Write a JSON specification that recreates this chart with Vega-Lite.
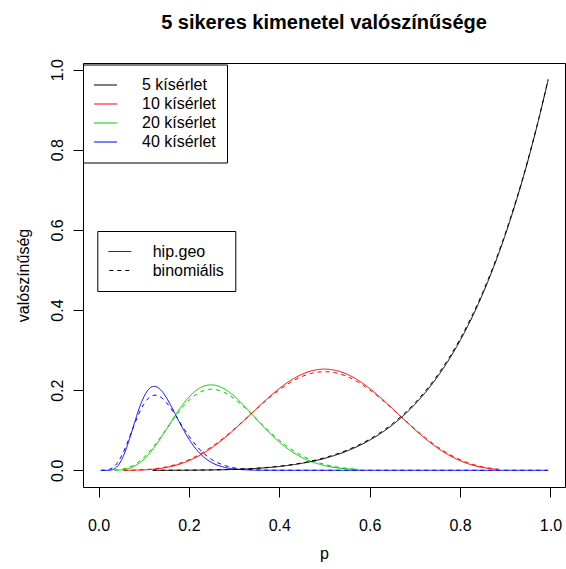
{
"$schema":"https://vega.github.io/schema/vega-lite/v6.json",
"width":482,"height":424,
"autosize":{"type":"none"},
"padding":{"left":83,"top":63,"right":1,"bottom":82},
"background":"white",
"title":{"text":"5 sikeres kimenetel valószínűsége","font":"Liberation Sans","fontSize":20,"fontWeight":"bold","color":"#000","anchor":"middle","offset":25},
"config":{"view":{"stroke":"#000","strokeWidth":1},
 "axis":{"grid":false,"domain":false,"tickColor":"#000","tickSize":10,"tickWidth":1,"labelFont":"Liberation Sans","labelFontSize":16,"labelColor":"#000","titleFont":"Liberation Sans","titleFontSize":16,"titleFontWeight":"normal","titleColor":"#000","labelFlush":false,"labelOverlap":false}},
"data":{"values":[
{"p":0.005,"n":"40 kísérlet","t":"hip.geo","v":0},
{"p":0.01,"n":"40 kísérlet","t":"hip.geo","v":0},
{"p":0.02,"n":"40 kísérlet","t":"hip.geo","v":0},
{"p":0.025,"n":"40 kísérlet","t":"hip.geo","v":0.00026},
{"p":0.03,"n":"40 kísérlet","t":"hip.geo","v":0.00128},
{"p":0.04,"n":"40 kísérlet","t":"hip.geo","v":0.008},
{"p":0.05,"n":"40 kísérlet","t":"hip.geo","v":0.02404},
{"p":0.06,"n":"40 kísérlet","t":"hip.geo","v":0.05023},
{"p":0.07,"n":"40 kísérlet","t":"hip.geo","v":0.08399},
{"p":0.08,"n":"40 kísérlet","t":"hip.geo","v":0.12062},
{"p":0.09,"n":"40 kísérlet","t":"hip.geo","v":0.15495},
{"p":0.1,"n":"40 kísérlet","t":"hip.geo","v":0.18268},
{"p":0.11,"n":"40 kísérlet","t":"hip.geo","v":0.20108},
{"p":0.12,"n":"40 kísérlet","t":"hip.geo","v":0.20917},
{"p":0.125,"n":"40 kísérlet","t":"hip.geo","v":0.20948},
{"p":0.13,"n":"40 kísérlet","t":"hip.geo","v":0.20748},
{"p":0.14,"n":"40 kísérlet","t":"hip.geo","v":0.19753},
{"p":0.15,"n":"40 kísérlet","t":"hip.geo","v":0.18144},
{"p":0.16,"n":"40 kísérlet","t":"hip.geo","v":0.16144},
{"p":0.17,"n":"40 kísérlet","t":"hip.geo","v":0.13959},
{"p":0.18,"n":"40 kísérlet","t":"hip.geo","v":0.11759},
{"p":0.19,"n":"40 kísérlet","t":"hip.geo","v":0.09671},
{"p":0.2,"n":"40 kísérlet","t":"hip.geo","v":0.07778},
{"p":0.21,"n":"40 kísérlet","t":"hip.geo","v":0.06126},
{"p":0.22,"n":"40 kísérlet","t":"hip.geo","v":0.04731},
{"p":0.23,"n":"40 kísérlet","t":"hip.geo","v":0.03586},
{"p":0.24,"n":"40 kísérlet","t":"hip.geo","v":0.0267},
{"p":0.25,"n":"40 kísérlet","t":"hip.geo","v":0.01953},
{"p":0.26,"n":"40 kísérlet","t":"hip.geo","v":0.01405},
{"p":0.28,"n":"40 kísérlet","t":"hip.geo","v":0.00693},
{"p":0.3,"n":"40 kísérlet","t":"hip.geo","v":0.00321},
{"p":0.32,"n":"40 kísérlet","t":"hip.geo","v":0.0014},
{"p":0.36,"n":"40 kísérlet","t":"hip.geo","v":0.00022},
{"p":0.4,"n":"40 kísérlet","t":"hip.geo","v":0.00002},
{"p":0.45,"n":"40 kísérlet","t":"hip.geo","v":0},
{"p":0.6,"n":"40 kísérlet","t":"hip.geo","v":0},
{"p":0.8,"n":"40 kísérlet","t":"hip.geo","v":0},
{"p":0.995,"n":"40 kísérlet","t":"hip.geo","v":0},
{"p":0.005,"n":"40 kísérlet","t":"binomiális","v":0},
{"p":0.01,"n":"40 kísérlet","t":"binomiális","v":0.00005},
{"p":0.02,"n":"40 kísérlet","t":"binomiális","v":0.00104},
{"p":0.025,"n":"40 kísérlet","t":"binomiális","v":0.00265},
{"p":0.03,"n":"40 kísérlet","t":"binomiális","v":0.00551},
{"p":0.04,"n":"40 kísérlet","t":"binomiális","v":0.01615},
{"p":0.05,"n":"40 kísérlet","t":"binomiális","v":0.03415},
{"p":0.06,"n":"40 kísérlet","t":"binomiális","v":0.05868},
{"p":0.07,"n":"40 kísérlet","t":"binomiális","v":0.08722},
{"p":0.08,"n":"40 kísérlet","t":"binomiális","v":0.11648},
{"p":0.09,"n":"40 kísérlet","t":"binomiális","v":0.14318},
{"p":0.1,"n":"40 kísérlet","t":"binomiális","v":0.16471},
{"p":0.11,"n":"40 kísérlet","t":"binomiális","v":0.17941},
{"p":0.12,"n":"40 kísérlet","t":"binomiális","v":0.18665},
{"p":0.125,"n":"40 kísérlet","t":"binomiális","v":0.18753},
{"p":0.13,"n":"40 kísérlet","t":"binomiális","v":0.18669},
{"p":0.14,"n":"40 kísérlet","t":"binomiális","v":0.18043},
{"p":0.15,"n":"40 kísérlet","t":"binomiális","v":0.16918},
{"p":0.16,"n":"40 kísérlet","t":"binomiális","v":0.15439},
{"p":0.17,"n":"40 kísérlet","t":"binomiális","v":0.13747},
{"p":0.18,"n":"40 kísérlet","t":"binomiális","v":0.1197},
{"p":0.19,"n":"40 kísérlet","t":"binomiális","v":0.10209},
{"p":0.2,"n":"40 kísérlet","t":"binomiális","v":0.08541},
{"p":0.21,"n":"40 kísérlet","t":"binomiális","v":0.07019},
{"p":0.22,"n":"40 kísérlet","t":"binomiális","v":0.05671},
{"p":0.23,"n":"40 kísérlet","t":"binomiális","v":0.04509},
{"p":0.24,"n":"40 kísérlet","t":"binomiális","v":0.0353},
{"p":0.25,"n":"40 kísérlet","t":"binomiális","v":0.02723},
{"p":0.26,"n":"40 kísérlet","t":"binomiális","v":0.02071},
{"p":0.28,"n":"40 kísérlet","t":"binomiális","v":0.0115},
{"p":0.3,"n":"40 kísérlet","t":"binomiális","v":0.00606},
{"p":0.32,"n":"40 kísérlet","t":"binomiális","v":0.00303},
{"p":0.36,"n":"40 kísérlet","t":"binomiális","v":0.00066},
{"p":0.4,"n":"40 kísérlet","t":"binomiális","v":0.00012},
{"p":0.45,"n":"40 kísérlet","t":"binomiális","v":0.00001},
{"p":0.6,"n":"40 kísérlet","t":"binomiális","v":0},
{"p":0.8,"n":"40 kísérlet","t":"binomiális","v":0},
{"p":0.995,"n":"40 kísérlet","t":"binomiális","v":0},
{"p":0.035,"n":"20 kísérlet","t":"hip.geo","v":0.00011},
{"p":0.05,"n":"20 kísérlet","t":"hip.geo","v":0.00103},
{"p":0.075,"n":"20 kísérlet","t":"hip.geo","v":0.00808},
{"p":0.1,"n":"20 kísérlet","t":"hip.geo","v":0.02722},
{"p":0.125,"n":"20 kísérlet","t":"hip.geo","v":0.06005},
{"p":0.15,"n":"20 kísérlet","t":"hip.geo","v":0.10234},
{"p":0.175,"n":"20 kísérlet","t":"hip.geo","v":0.14606},
{"p":0.2,"n":"20 kísérlet","t":"hip.geo","v":0.18269},
{"p":0.225,"n":"20 kísérlet","t":"hip.geo","v":0.20599},
{"p":0.25,"n":"20 kísérlet","t":"hip.geo","v":0.21323},
{"p":0.275,"n":"20 kísérlet","t":"hip.geo","v":0.20517},
{"p":0.3,"n":"20 kísérlet","t":"hip.geo","v":0.18508},
{"p":0.325,"n":"20 kísérlet","t":"hip.geo","v":0.15744},
{"p":0.35,"n":"20 kísérlet","t":"hip.geo","v":0.12681},
{"p":0.375,"n":"20 kísérlet","t":"hip.geo","v":0.09696},
{"p":0.4,"n":"20 kísérlet","t":"hip.geo","v":0.07048},
{"p":0.425,"n":"20 kísérlet","t":"hip.geo","v":0.04872},
{"p":0.45,"n":"20 kísérlet","t":"hip.geo","v":0.03202},
{"p":0.475,"n":"20 kísérlet","t":"hip.geo","v":0.01999},
{"p":0.5,"n":"20 kísérlet","t":"hip.geo","v":0.01182},
{"p":0.525,"n":"20 kísérlet","t":"hip.geo","v":0.00661},
{"p":0.55,"n":"20 kísérlet","t":"hip.geo","v":0.00347},
{"p":0.575,"n":"20 kísérlet","t":"hip.geo","v":0.00171},
{"p":0.035,"n":"20 kísérlet","t":"binomiális","v":0.00048},
{"p":0.05,"n":"20 kísérlet","t":"binomiális","v":0.00224},
{"p":0.075,"n":"20 kísérlet","t":"binomiális","v":0.01143},
{"p":0.1,"n":"20 kísérlet","t":"binomiális","v":0.03192},
{"p":0.125,"n":"20 kísérlet","t":"binomiális","v":0.06384},
{"p":0.15,"n":"20 kísérlet","t":"binomiális","v":0.10285},
{"p":0.175,"n":"20 kísérlet","t":"binomiális","v":0.14205},
{"p":0.2,"n":"20 kísérlet","t":"binomiális","v":0.17456},
{"p":0.225,"n":"20 kísérlet","t":"binomiális","v":0.19538},
{"p":0.25,"n":"20 kísérlet","t":"binomiális","v":0.20233},
{"p":0.275,"n":"20 kísérlet","t":"binomiális","v":0.19596},
{"p":0.3,"n":"20 kísérlet","t":"binomiális","v":0.17886},
{"p":0.325,"n":"20 kísérlet","t":"binomiális","v":0.15467},
{"p":0.35,"n":"20 kísérlet","t":"binomiális","v":0.1272},
{"p":0.375,"n":"20 kísérlet","t":"binomiális","v":0.09972},
{"p":0.4,"n":"20 kísérlet","t":"binomiális","v":0.07465},
{"p":0.425,"n":"20 kísérlet","t":"binomiális","v":0.05338},
{"p":0.45,"n":"20 kísérlet","t":"binomiális","v":0.03647},
{"p":0.475,"n":"20 kísérlet","t":"binomiális","v":0.02379},
{"p":0.5,"n":"20 kísérlet","t":"binomiális","v":0.01479},
{"p":0.525,"n":"20 kísérlet","t":"binomiális","v":0.00874},
{"p":0.55,"n":"20 kísérlet","t":"binomiális","v":0.0049},
{"p":0.575,"n":"20 kísérlet","t":"binomiális","v":0.0026},
{"p":0.055,"n":"10 kísérlet","t":"hip.geo","v":0.00004},
{"p":0.075,"n":"10 kísérlet","t":"hip.geo","v":0.00023},
{"p":0.1,"n":"10 kísérlet","t":"hip.geo","v":0.00103},
{"p":0.125,"n":"10 kísérlet","t":"hip.geo","v":0.00306},
{"p":0.15,"n":"10 kísérlet","t":"hip.geo","v":0.00708},
{"p":0.175,"n":"10 kísérlet","t":"hip.geo","v":0.01386},
{"p":0.2,"n":"10 kísérlet","t":"hip.geo","v":0.02404},
{"p":0.225,"n":"10 kísérlet","t":"hip.geo","v":0.03801},
{"p":0.25,"n":"10 kísérlet","t":"hip.geo","v":0.05583},
{"p":0.275,"n":"10 kísérlet","t":"hip.geo","v":0.07719},
{"p":0.3,"n":"10 kísérlet","t":"hip.geo","v":0.10143},
{"p":0.325,"n":"10 kísérlet","t":"hip.geo","v":0.12755},
{"p":0.35,"n":"10 kísérlet","t":"hip.geo","v":0.15431},
{"p":0.375,"n":"10 kísérlet","t":"hip.geo","v":0.1803},
{"p":0.4,"n":"10 kísérlet","t":"hip.geo","v":0.20407},
{"p":0.425,"n":"10 kísérlet","t":"hip.geo","v":0.22423},
{"p":0.45,"n":"10 kísérlet","t":"hip.geo","v":0.23959},
{"p":0.475,"n":"10 kísérlet","t":"hip.geo","v":0.2492},
{"p":0.5,"n":"10 kísérlet","t":"hip.geo","v":0.25247},
{"p":0.525,"n":"10 kísérlet","t":"hip.geo","v":0.2492},
{"p":0.55,"n":"10 kísérlet","t":"hip.geo","v":0.23959},
{"p":0.575,"n":"10 kísérlet","t":"hip.geo","v":0.22423},
{"p":0.6,"n":"10 kísérlet","t":"hip.geo","v":0.20407},
{"p":0.625,"n":"10 kísérlet","t":"hip.geo","v":0.1803},
{"p":0.65,"n":"10 kísérlet","t":"hip.geo","v":0.15431},
{"p":0.675,"n":"10 kísérlet","t":"hip.geo","v":0.12755},
{"p":0.7,"n":"10 kísérlet","t":"hip.geo","v":0.10143},
{"p":0.725,"n":"10 kísérlet","t":"hip.geo","v":0.07719},
{"p":0.75,"n":"10 kísérlet","t":"hip.geo","v":0.05583},
{"p":0.775,"n":"10 kísérlet","t":"hip.geo","v":0.03801},
{"p":0.8,"n":"10 kísérlet","t":"hip.geo","v":0.02404},
{"p":0.825,"n":"10 kísérlet","t":"hip.geo","v":0.01386},
{"p":0.85,"n":"10 kísérlet","t":"hip.geo","v":0.00708},
{"p":0.875,"n":"10 kísérlet","t":"hip.geo","v":0.00306},
{"p":0.885,"n":"10 kísérlet","t":"hip.geo","v":0.00205},
{"p":0.055,"n":"10 kísérlet","t":"binomiális","v":0.0001},
{"p":0.075,"n":"10 kísérlet","t":"binomiális","v":0.00041},
{"p":0.1,"n":"10 kísérlet","t":"binomiális","v":0.00149},
{"p":0.125,"n":"10 kísérlet","t":"binomiális","v":0.00394},
{"p":0.15,"n":"10 kísérlet","t":"binomiális","v":0.00849},
{"p":0.175,"n":"10 kísérlet","t":"binomiális","v":0.01581},
{"p":0.2,"n":"10 kísérlet","t":"binomiális","v":0.02642},
{"p":0.225,"n":"10 kísérlet","t":"binomiális","v":0.04063},
{"p":0.25,"n":"10 kísérlet","t":"binomiális","v":0.0584},
{"p":0.275,"n":"10 kísérlet","t":"binomiális","v":0.07939},
{"p":0.3,"n":"10 kísérlet","t":"binomiális","v":0.10292},
{"p":0.325,"n":"10 kísérlet","t":"binomiális","v":0.12804},
{"p":0.35,"n":"10 kísérlet","t":"binomiális","v":0.15357},
{"p":0.375,"n":"10 kísérlet","t":"binomiális","v":0.17822},
{"p":0.4,"n":"10 kísérlet","t":"binomiális","v":0.20066},
{"p":0.425,"n":"10 kísérlet","t":"binomiális","v":0.21963},
{"p":0.45,"n":"10 kísérlet","t":"binomiális","v":0.23403},
{"p":0.475,"n":"10 kísérlet","t":"binomiális","v":0.24303},
{"p":0.5,"n":"10 kísérlet","t":"binomiális","v":0.24609},
{"p":0.525,"n":"10 kísérlet","t":"binomiális","v":0.24303},
{"p":0.55,"n":"10 kísérlet","t":"binomiális","v":0.23403},
{"p":0.575,"n":"10 kísérlet","t":"binomiális","v":0.21963},
{"p":0.6,"n":"10 kísérlet","t":"binomiális","v":0.20066},
{"p":0.625,"n":"10 kísérlet","t":"binomiális","v":0.17822},
{"p":0.65,"n":"10 kísérlet","t":"binomiális","v":0.15357},
{"p":0.675,"n":"10 kísérlet","t":"binomiális","v":0.12804},
{"p":0.7,"n":"10 kísérlet","t":"binomiális","v":0.10292},
{"p":0.725,"n":"10 kísérlet","t":"binomiális","v":0.07939},
{"p":0.75,"n":"10 kísérlet","t":"binomiális","v":0.0584},
{"p":0.775,"n":"10 kísérlet","t":"binomiális","v":0.04063},
{"p":0.8,"n":"10 kísérlet","t":"binomiális","v":0.02642},
{"p":0.825,"n":"10 kísérlet","t":"binomiális","v":0.01581},
{"p":0.85,"n":"10 kísérlet","t":"binomiális","v":0.00849},
{"p":0.875,"n":"10 kísérlet","t":"binomiális","v":0.00394},
{"p":0.885,"n":"10 kísérlet","t":"binomiális","v":0.00275},
{"p":0.12,"n":"5 kísérlet","t":"hip.geo","v":0.00002},
{"p":0.15,"n":"5 kísérlet","t":"hip.geo","v":0.00006},
{"p":0.2,"n":"5 kísérlet","t":"hip.geo","v":0.00026},
{"p":0.25,"n":"5 kísérlet","t":"hip.geo","v":0.00084},
{"p":0.3,"n":"5 kísérlet","t":"hip.geo","v":0.00215},
{"p":0.35,"n":"5 kísérlet","t":"hip.geo","v":0.00477},
{"p":0.4,"n":"5 kísérlet","t":"hip.geo","v":0.00948},
{"p":0.45,"n":"5 kísérlet","t":"hip.geo","v":0.01733},
{"p":0.5,"n":"5 kísérlet","t":"hip.geo","v":0.02969},
{"p":0.55,"n":"5 kísérlet","t":"hip.geo","v":0.04827},
{"p":0.6,"n":"5 kísérlet","t":"hip.geo","v":0.07516},
{"p":0.65,"n":"5 kísérlet","t":"hip.geo","v":0.11289},
{"p":0.7,"n":"5 kísérlet","t":"hip.geo","v":0.16444},
{"p":0.75,"n":"5 kísérlet","t":"hip.geo","v":0.23331},
{"p":0.8,"n":"5 kísérlet","t":"hip.geo","v":0.32354},
{"p":0.85,"n":"5 kísérlet","t":"hip.geo","v":0.43974},
{"p":0.9,"n":"5 kísérlet","t":"hip.geo","v":0.58717},
{"p":0.95,"n":"5 kísérlet","t":"hip.geo","v":0.77172},
{"p":0.975,"n":"5 kísérlet","t":"hip.geo","v":0.87995},
{"p":0.995,"n":"5 kísérlet","t":"hip.geo","v":0.975},
{"p":0.12,"n":"5 kísérlet","t":"binomiális","v":0.00002},
{"p":0.15,"n":"5 kísérlet","t":"binomiális","v":0.00008},
{"p":0.2,"n":"5 kísérlet","t":"binomiális","v":0.00032},
{"p":0.25,"n":"5 kísérlet","t":"binomiális","v":0.00098},
{"p":0.3,"n":"5 kísérlet","t":"binomiális","v":0.00243},
{"p":0.35,"n":"5 kísérlet","t":"binomiális","v":0.00525},
{"p":0.4,"n":"5 kísérlet","t":"binomiális","v":0.01024},
{"p":0.45,"n":"5 kísérlet","t":"binomiális","v":0.01845},
{"p":0.5,"n":"5 kísérlet","t":"binomiális","v":0.03125},
{"p":0.55,"n":"5 kísérlet","t":"binomiális","v":0.05033},
{"p":0.6,"n":"5 kísérlet","t":"binomiális","v":0.07776},
{"p":0.65,"n":"5 kísérlet","t":"binomiális","v":0.11603},
{"p":0.7,"n":"5 kísérlet","t":"binomiális","v":0.16807},
{"p":0.75,"n":"5 kísérlet","t":"binomiális","v":0.23731},
{"p":0.8,"n":"5 kísérlet","t":"binomiális","v":0.32768},
{"p":0.85,"n":"5 kísérlet","t":"binomiális","v":0.44371},
{"p":0.9,"n":"5 kísérlet","t":"binomiális","v":0.59049},
{"p":0.95,"n":"5 kísérlet","t":"binomiális","v":0.77378},
{"p":0.975,"n":"5 kísérlet","t":"binomiális","v":0.8811},
{"p":0.995,"n":"5 kísérlet","t":"binomiális","v":0.97525}
]},
"mark":{"type":"line","strokeWidth":1,"interpolate":"monotone"},
"encoding":{
 "x":{"field":"p","type":"quantitative","scale":{"domain":[-0.0345,1.0323],"nice":false,"zero":false},
  "axis":{"values":[0,0.2,0.4,0.6,0.8,1],"format":".1f","title":"p","labelPadding":20,"titlePadding":12}},
 "y":{"field":"v","type":"quantitative","scale":{"domain":[-0.0417,1.0165],"nice":false,"zero":false},
  "axis":{"values":[0,0.2,0.4,0.6,0.8,1],"format":".1f","title":"valószínűség","labelAngle":-90,"labelAlign":"center","labelBaseline":"alphabetic","labelPadding":11,"titlePadding":18}},
 "color":{"field":"n","type":"nominal","scale":{"domain":["5 kísérlet","10 kísérlet","20 kísérlet","40 kísérlet"],"range":["#000000","#FF0000","#00CD00","#0000FF"]},
  "legend":{"orient":"none","legendX":0,"legendY":1.5,"title":null,"padding":11,"strokeColor":"#000","symbolType":"M-3,0H3","symbolSize":100,"symbolStrokeWidth":1,"labelOffset":32,"clipHeight":19,"rowPadding":0,"labelFont":"Liberation Sans","labelFontSize":16,"labelColor":"#000",
   "encode":{"symbols":{"update":{"stroke":{"scale":"color","field":"value"},"fill":{"value":"transparent"}}}}}},
 "strokeDash":{"field":"t","type":"nominal","scale":{"domain":["hip.geo","binomiális"],"range":[[1,0],[4,4]]},
  "legend":{"orient":"none","legendX":14.3,"legendY":168,"title":null,"padding":11,"strokeColor":"#000","symbolType":"M-3,0H3","symbolSize":100,"symbolStrokeWidth":1,"symbolStrokeColor":"#000","labelOffset":28.4,"clipHeight":19,"rowPadding":0,"labelFont":"Liberation Sans","labelFontSize":16,"labelColor":"#000",
   "encode":{"symbols":{"update":{"fill":{"value":"transparent"}}}}}}
}
}
